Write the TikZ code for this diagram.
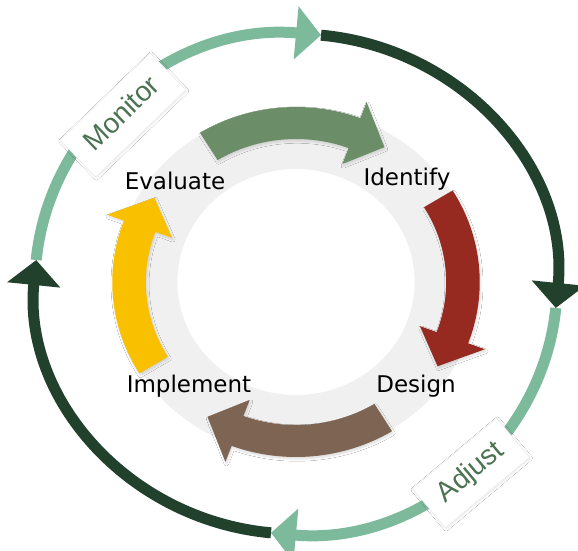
\documentclass[tikz,border=0pt]{standalone}
\usepackage{fontspec}
\setmainfont{DejaVu Sans}
\newfontfamily\boxfont{Liberation Sans}
\usetikzlibrary{arrows.meta,shadows.blur}
\definecolor{ringlight}{HTML}{7DB99B}
\definecolor{ringdark}{HTML}{22412D}
\definecolor{ringgray}{HTML}{F0F0F0}
\definecolor{agreen}{HTML}{6B8E68}
\definecolor{ared}{HTML}{962A20}
\definecolor{abrown}{HTML}{7D6453}
\definecolor{ayellow}{HTML}{F9C000}
\definecolor{boxgreen}{HTML}{4B7352}
\tikzset{
  ringseg/.style={line width=11pt,-{Triangle[length=25pt,width=52pt]}},
  lbox/.style={fill=white,draw=black!8,line width=0.4pt,inner xsep=16pt,inner ysep=0pt,
    minimum height=51pt,text=boxgreen,font=\boxfont\fontsize{28}{28}\selectfont,
    text height=20pt,text depth=6pt,
    blur shadow={shadow blur steps=8,shadow xshift=0.8pt,shadow yshift=-1pt,shadow opacity=10}},
  steplabel/.style={anchor=base,text=black,font=\fontsize{23}{23}\selectfont,inner sep=0pt},
  arrowshadow/.style={blur shadow={shadow blur steps=8,shadow xshift=1pt,shadow yshift=-2pt,shadow opacity=14}}
}
\begin{document}
\begin{tikzpicture}[x=1pt,y=1pt]
\useasboundingbox (0,0) rectangle (578,550);
\fill[white] (0,0) rectangle (578,550);
% gray ring
\begin{scope}[shift={(296,268)},xscale=1.05]
  \fill[ringgray,even odd rule] (0,0) circle (173) (0,0) circle (113);
  \foreach \a/\col in {121.5/agreen,31.5/ared,-58.5/abrown,-148.5/ayellow}{
    \pgfmathsetmacro\b{\a-52}
    \pgfmathsetmacro\t{\a-63.5}
    \fill[\col,arrowshadow] (\a:175) arc[start angle=\a,end angle=\b,radius=175]
      -- (\b:192) -- (\t:159) -- (\b:126) -- (\b:143)
      arc[start angle=\b,end angle=\a,radius=143] -- cycle;
  }
\end{scope}
% outer ring
\begin{scope}[shift={(296,266)},xscale=1.044]
  \draw[ringseg,ringlight] (174.5:250) arc[start angle=174.5,end angle=84.5,radius=250];
  \draw[ringseg,ringdark] (84.5:250) arc[start angle=84.5,end angle=-5.5,radius=250];
  \draw[ringseg,ringlight] (-5.5:250) arc[start angle=-5.5,end angle=-95.5,radius=250];
  \draw[ringseg,ringdark] (-95.5:250) arc[start angle=-95.5,end angle=-185.5,radius=250];
\end{scope}
% boxes
\node[lbox,rotate=44] (monitor) at (123,435) {Monitor};
\node[lbox,rotate=40] (adjust) at (471,77) {Adjust};
% step labels
\node[steplabel] (evaluate) at (175,361) {Evaluate};
\node[steplabel] (identify) at (407,365) {Identify};
\node[steplabel] (implement) at (189,158) {Implement};
\node[steplabel] (design) at (416,158) {Design};
\end{tikzpicture}
\end{document}
